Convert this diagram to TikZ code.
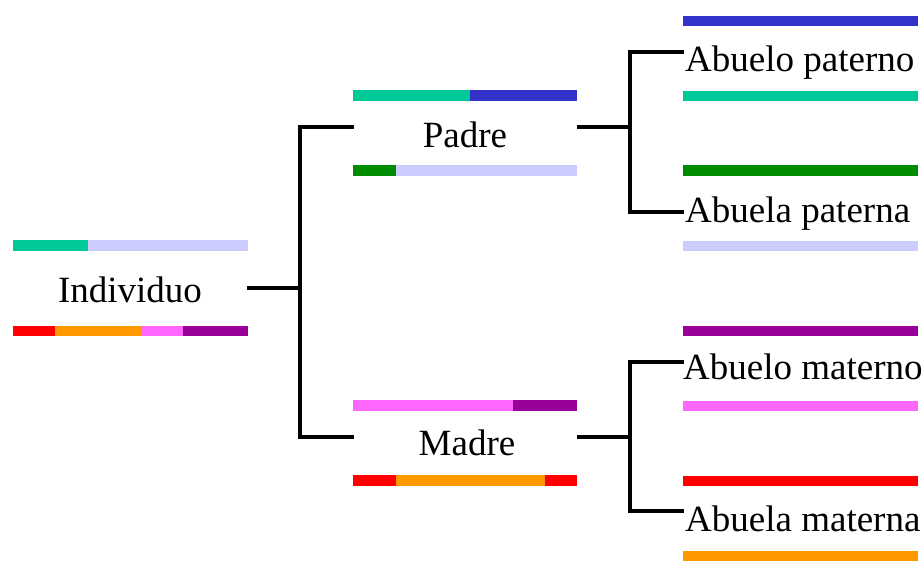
\documentclass[tikz,border=0pt]{standalone}
\usepackage{fontspec}
\newfontfamily\tnr{Liberation Serif}
\definecolor{cteal}{RGB}{0,200,150}
\definecolor{cblue}{RGB}{51,51,204}
\definecolor{clav}{RGB}{204,204,255}
\definecolor{cgreen}{RGB}{0,140,0}
\definecolor{cred}{RGB}{255,0,0}
\definecolor{corange}{RGB}{255,153,0}
\definecolor{cpink}{RGB}{255,102,255}
\definecolor{cpurple}{RGB}{153,0,153}
\newcommand\gbar[4]{\fill[#4] (#1,#3-5.25) rectangle (#2,#3+5.25);}
\begin{document}
\begin{tikzpicture}[x=1pt,y=-1pt,
  person/.style={font=\tnr\fontsize{37}{44}\selectfont, inner sep=0pt, anchor=base},
  gperson/.style={font=\tnr\fontsize{37}{44}\selectfont, inner sep=0pt, anchor=base west},
  link/.style={draw=black, line width=3.5pt, line cap=butt, line join=miter}]
\useasboundingbox (0,0) rectangle (922,561);
% bars: Individuo
\gbar{13}{88}{245.5}{cteal}
\gbar{88}{248}{245.5}{clav}
\gbar{13}{55}{331}{cred}
\gbar{55}{141}{331}{corange}
\gbar{141}{183}{331}{cpink}
\gbar{183}{248}{331}{cpurple}
% Padre
\gbar{353}{470}{95.5}{cteal}
\gbar{470}{577}{95.5}{cblue}
\gbar{353}{396}{170.5}{cgreen}
\gbar{396}{577}{170.5}{clav}
% Madre
\gbar{353}{513}{405.5}{cpink}
\gbar{513}{577}{405.5}{cpurple}
\gbar{353}{396}{480.5}{cred}
\gbar{396}{545}{480.5}{corange}
\gbar{545}{577}{480.5}{cred}
% grandparents
\gbar{683}{918}{21}{cblue}
\gbar{683}{918}{96}{cteal}
\gbar{683}{918}{170.5}{cgreen}
\gbar{683}{918}{246}{clav}
\gbar{683}{918}{331}{cpurple}
\gbar{683}{918}{406}{cpink}
\gbar{683}{918}{481}{cred}
\gbar{683}{918}{556}{corange}
% texts
\node[person] (ind) at (130,303) {Individuo};
\node[person] (pad) at (465,148) {Padre};
\node[person] (mad) at (467,456) {Madre};
\node[gperson] (abp) at (685,72) {Abuelo paterno};
\node[gperson] (aap) at (685,223) {Abuela paterna};
\node[gperson] (abm) at (683,380) {Abuelo materno};
\node[gperson] (aam) at (685,532) {Abuela materna};
% connector coordinates
\coordinate (ind-out) at (247,288);
\coordinate (f1) at (300,288);
\coordinate (pad-in) at (354,127);
\coordinate (mad-in) at (354,437);
\coordinate (pad-out) at (577,127);
\coordinate (f2) at (630,127);
\coordinate (abp-in) at (684,52);
\coordinate (aap-in) at (684,212);
\coordinate (mad-out) at (577,437);
\coordinate (f3) at (630,437);
\coordinate (abm-in) at (684,362);
\coordinate (aam-in) at (684,511);
\draw[link] (ind-out) -- (f1);
\draw[link] (pad-in) -| (f1) |- (mad-in);
\draw[link] (pad-out) -- (f2);
\draw[link] (abp-in) -| (f2) |- (aap-in);
\draw[link] (mad-out) -- (f3);
\draw[link] (abm-in) -| (f3) |- (aam-in);
\end{tikzpicture}
\end{document}
